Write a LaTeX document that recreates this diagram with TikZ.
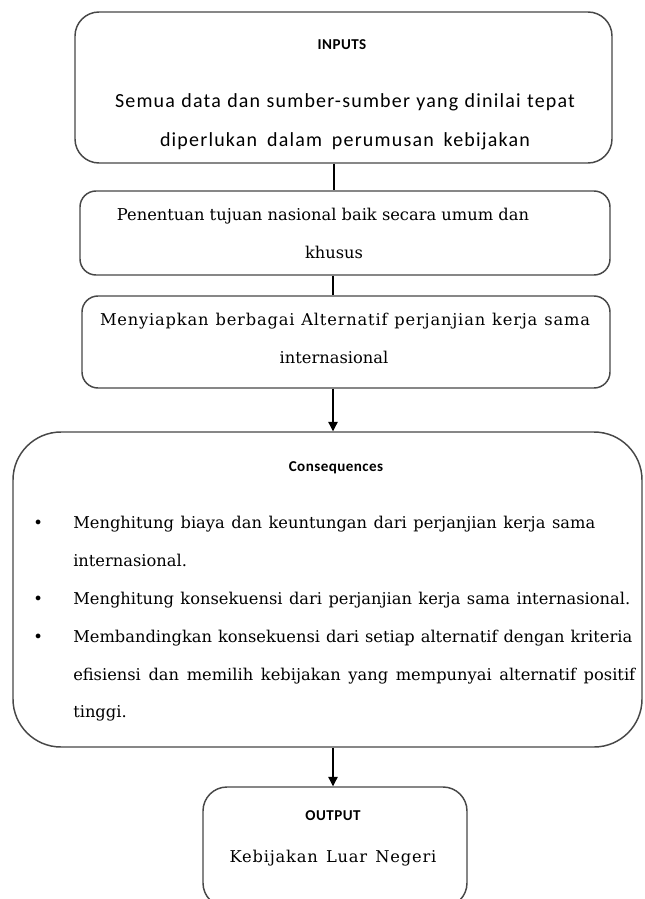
\documentclass[tikz,border=0pt]{standalone}
\usepackage{fontspec}
\setmainfont{DejaVu Serif}
\newfontfamily\calib[LetterSpace=6]{Carlito}
\newfontfamily\calibh[LetterSpace=3]{Carlito}
\newfontfamily\srwide[LetterSpace=5]{DejaVu Serif}
\usetikzlibrary{arrows.meta}
\begin{document}
\begin{tikzpicture}[x=0.75pt,y=-0.75pt,
  box/.style={draw=black!72, line width=1.1pt, fill=white, inner sep=0pt},
  hd/.style={font=\calibh\bfseries\fontsize{11.3}{12}\selectfont, anchor=base, inner sep=0pt},
  sn/.style={font=\calib\fontsize{15}{16}\selectfont, anchor=base, inner sep=0pt},
  sr/.style={font=\fontsize{12.2}{14}\selectfont, anchor=base, inner sep=0pt},
  srw/.style={font=\srwide\fontsize{12.2}{14}\selectfont, anchor=base, inner sep=0pt},
  srl/.style={font=\fontsize{12.2}{14}\selectfont, anchor=base west, inner sep=0pt},
  conn/.style={draw=black, line width=0.9pt},
  arr/.style={conn, -{Triangle[width=7pt,length=7pt]}}]
\useasboundingbox (0,0) rectangle (644,899);
\clip (0,0) rectangle (644,899);
% boxes
\node[box, rounded corners=18pt, minimum width=402.75pt, minimum height=113.25pt] (inp) at (343.5,87.5) {};
\node[box, rounded corners=12pt, minimum width=397.5pt, minimum height=63pt] (pen) at (345,233) {};
\node[box, rounded corners=12pt, minimum width=396pt, minimum height=69pt] (meny) at (346,342) {};
\node[box, rounded corners=36pt, minimum width=471.75pt, minimum height=236.25pt] (cons) at (327.5,589.5) {};
\node[box, rounded corners=18pt, minimum width=198pt, minimum height=90pt] (out) at (335,847) {};
% connector x positions
\coordinate (x1) at (334,0);
\coordinate (x2) at (333,0);
\coordinate (x3) at (333,0);
\coordinate (x4) at (333,0);
\draw[conn] (inp.south -| x1) -- (pen.north -| x1);
\draw[conn] (pen.south -| x2) -- (meny.north -| x2);
\draw[arr] (meny.south -| x3) -- (cons.north -| x3);
\draw[arr] (cons.south -| x4) -- (out.north -| x4);
% texts
\node[hd] (t1) at (342,50) {INPUTS};
\node[sn] (t2) at (345,108) {\makebox[345pt][s]{Semua data dan sumber-sumber yang dinilai tepat}};
\node[sn] (t3) at (345,146) {\makebox[277.5pt][s]{diperlukan dalam perumusan kebijakan}};
\node[sr] (t4) at (323,220) {Penentuan tujuan nasional baik secara umum dan};
\node[sr] (t5) at (334,258) {khusus};
\node[srw] (t6) at (345,325) {\makebox[367.5pt][s]{Menyiapkan berbagai Alternatif perjanjian kerja sama}};
\node[sr] (t7) at (334,363) {internasional};
\node[hd] (t8) at (336,471) {Consequences};
\node[srl] (b1) at (33,528) {\textbullet};
\node[srl] (b2) at (33,604) {\textbullet};
\node[srl] (b3) at (33,642) {\textbullet};
\node[srl] (l1) at (73,528) {\makebox[391.5pt][s]{Menghitung biaya dan keuntungan dari perjanjian kerja sama}};
\node[srl] (l2) at (73,566) {internasional.};
\node[srl] (l3) at (73,604) {\makebox[417.75pt][s]{Menghitung konsekuensi dari perjanjian kerja sama internasional.}};
\node[srl] (l4) at (73,642) {\makebox[419.25pt][s]{Membandingkan konsekuensi dari setiap alternatif dengan kriteria}};
\node[srl] (l5) at (73,680) {\makebox[421.5pt][s]{efisiensi dan memilih kebijakan yang mempunyai alternatif positif}};
\node[srl] (l6) at (73,717) {tinggi.};
\node[hd] (t9) at (333,820) {OUTPUT};
\node[srw] (t10) at (333,862) {\makebox[155pt][s]{Kebijakan Luar Negeri}};
\end{tikzpicture}
\end{document}
